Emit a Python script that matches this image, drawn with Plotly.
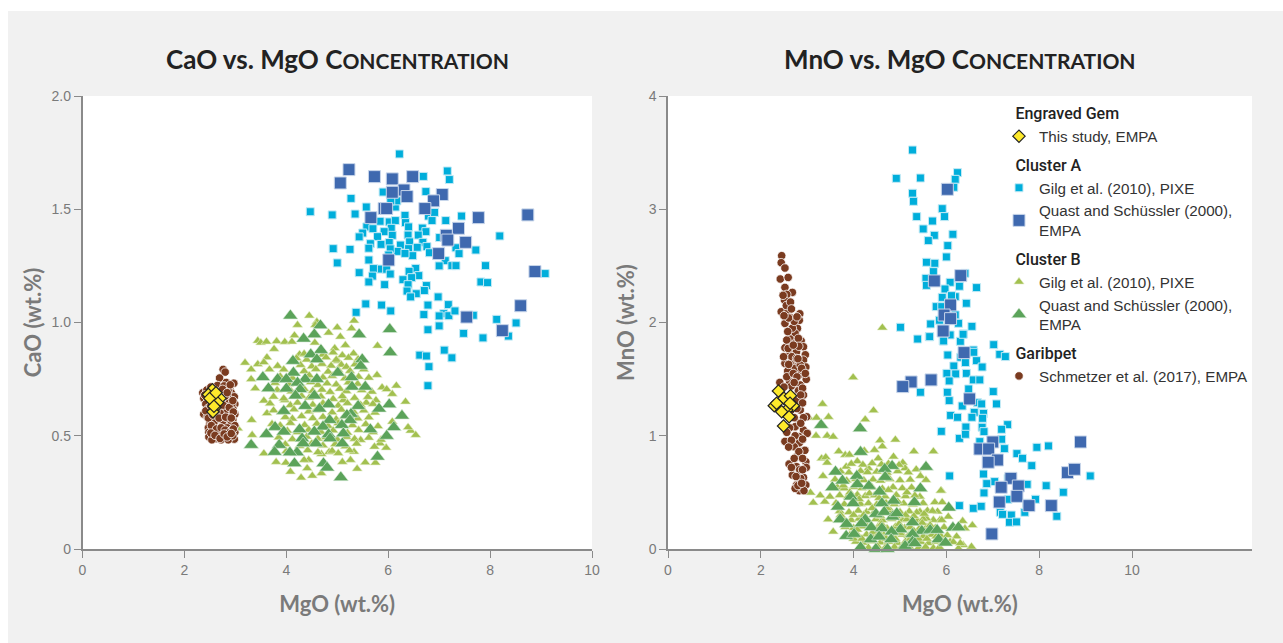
import plotly.graph_objects as go

W, H = 1283, 643

# ---------- CaO vs MgO (mgo, cao) ----------
gem_cao = [(2.55,.703),(2.47,.682),(2.60,.678),(2.70,.665),(2.55,.653),(2.65,.646),(2.60,.625),(2.56,.606),(2.50,.665),(2.62,.69),(2.58,.63)]

a_pixe_cao = [(6.22,1.744),(7.16,1.669),(6.69,1.645),(7.20,1.631),(5.90,1.576),(6.74,1.578),(5.27,1.548),(4.47,1.489),(4.90,1.475),(5.35,1.479),(5.57,1.51),(6.14,1.51),(6.17,1.537),(6.05,1.537),(6.33,1.473),(6.79,1.47),(6.91,1.486),(7.44,1.47),(7.13,1.45),(6.86,1.45),(5.84,1.447),(6.02,1.444),(6.14,1.45),(6.34,1.441),(5.58,1.422),(5.70,1.414),(6.06,1.416),(6.40,1.422),(6.67,1.417),(6.74,1.401),(5.92,1.401),(5.50,1.395),(5.43,1.378),(5.79,1.379),(6.08,1.385),(6.39,1.386),(6.59,1.386),(7.01,1.375),(8.19,1.382),(5.65,1.348),(5.86,1.345),(6.02,1.353),(6.42,1.356),(6.68,1.354),(6.24,1.342),(6.40,1.326),(6.57,1.332),(6.76,1.335),(6.18,1.314),(6.04,1.325),(5.62,1.328),(4.92,1.326),(5.25,1.323),(7.33,1.33),(7.72,1.32),(7.39,1.304),(6.81,1.308),(6.48,1.295),(6.33,1.305),(6.01,1.298),(5.62,1.276),(5.0,1.263),(7.12,1.273),(7.0,1.25),(7.25,1.251),(7.33,1.251),(7.91,1.251),(5.84,1.236),(5.71,1.238),(5.97,1.235),(5.43,1.22),(6.04,1.214),(6.54,1.239),(6.41,1.226),(6.60,1.207),(6.46,1.198),(6.29,1.189),(5.69,1.205),(5.62,1.179),(5.93,1.167),(6.39,1.167),(6.75,1.163),(7.82,1.179),(7.95,1.176),(9.08,1.216),(6.37,1.139),(6.71,1.141),(6.55,1.127),(6.44,1.113),(6.98,1.113),(6.78,1.077),(5.56,1.082),(5.87,1.077),(7.18,1.079),(5.37,1.045),(6.05,1.051),(6.70,1.035),(7.09,1.039),(7.0,1.029),(7.19,1.03),(7.31,1.051),(7.67,1.032),(8.13,1.014),(8.51,.998),(6.78,.968),(7.0,.985),(7.48,.952),(7.86,.932),(8.36,.94),(6.62,.856),(6.75,.852),(7.10,.878),(7.25,.844),(6.80,.805),(6.78,.721)]

a_empa_cao = [(5.23,1.675),(5.06,1.616),(5.73,1.644),(6.08,1.634),(6.48,1.644),(6.31,1.585),(6.08,1.575),(6.37,1.556),(7.06,1.565),(6.89,1.537),(6.72,1.503),(5.92,1.503),(5.97,1.503),(5.66,1.463),(7.77,1.463),(8.74,1.475),(7.38,1.416),(7.14,1.385),(7.17,1.364),(7.52,1.354),(6.99,1.304),(6.01,1.276),(8.88,1.225),(8.60,1.074),(7.54,1.024),(8.24,.964)]

b_pixe_cao = [(4.45,1.03),(4.22,.989),(4.60,1.003),(4.57,.989),(5.0,.978),(5.33,1.008),(5.28,.974),(4.83,.955),(4.16,.943),(5.06,.937),(3.44,.919),(3.50,.911),(3.61,.915),(3.81,.917),(3.97,.914),(4.11,.915),(4.56,.911),(5.16,.90),(5.79,.897),(3.76,.883),(4.26,.859),(4.95,.886),(5.01,.83),(3.62,.846),(3.19,.822),(3.44,.816),(3.56,.824),(3.83,.808),(3.31,.793),(3.67,.793),(3.31,.75),(5.78,.768),(3.39,.709),(6.16,.721),(5.88,.713),(5.97,.705),(6.08,.684),(6.34,.65),(3.56,.655),(3.97,.657),(3.62,.599),(3.32,.569),(3.05,.532),(3.33,.503),(3.56,.422),(3.80,.384),(4.08,.341),(4.29,.315),(4.51,.323),(4.69,.334),(4.41,.356),(5.39,.354),(5.55,.382),(5.26,.393),(5.10,.384),(5.75,.381),(5.96,.447),(5.84,.466),(5.73,.451),(6.44,.522),(6.39,.537),(6.54,.503),(6.08,.562),(5.57,.646),(5.76,.657),(5.12,.657),(5.33,.429),(4.84,.428),(4.69,.419),(4.44,.393),(4.35,.393),(3.99,.381),(5.46,.481),
(4.35,.862),(4.72,.858),(4.92,.867),(5.10,.855),(5.32,.863),(4.20,.842),(4.40,.836),(4.78,.846),(4.98,.835),(5.22,.844),(5.41,.838),(4.28,.812),(4.50,.806),(4.70,.817),(4.88,.809),(5.08,.813),(5.18,.804),(5.35,.815),(3.95,.792),(4.35,.785),(4.58,.794),(4.82,.783),(5.02,.79),(5.25,.786),(5.52,.793),(3.88,.762),(4.12,.755),(4.45,.766),(4.72,.757),(4.90,.764),(5.15,.753),(5.42,.76),(5.62,.756),(3.78,.733),(4.05,.727),(4.48,.736),(4.62,.724),(4.80,.731),(4.98,.726),(5.22,.735),(5.40,.729),(3.82,.702),(4.10,.695),(4.35,.706),(4.52,.698),(4.70,.703),(4.86,.693),(5.05,.707),(5.18,.697),(5.48,.701),(5.68,.694),(3.75,.672),(3.95,.664),(4.30,.676),(4.45,.668),(4.68,.673),(4.92,.662),(5.10,.674),(5.34,.667),(5.60,.671),(3.68,.642),(4.08,.635),(4.22,.646),(4.52,.637),(4.72,.643),(5.02,.633),(5.20,.644),(5.46,.636),(5.70,.64),(3.75,.612),(3.90,.604),(4.15,.616),(4.44,.607),(4.58,.613),(4.90,.603),(5.08,.615),(5.32,.606),(5.52,.611),(5.74,.602),(3.98,.582),(4.12,.575),(4.30,.586),(4.52,.577),(4.72,.583),(4.98,.573),(5.14,.585),(5.40,.576),(5.62,.581),(3.72,.552),(3.88,.545),(4.08,.556),(4.36,.547),(4.60,.553),(4.82,.543),(5.02,.555),(5.30,.546),(5.56,.551),(5.80,.542),(4.02,.522),(4.22,.515),(4.44,.526),(4.68,.517),(4.92,.523),(5.20,.513),(5.42,.525),(5.70,.516),(3.85,.492),(4.12,.485),(4.40,.496),(4.62,.487),(4.78,.493),(5.00,.483),(5.18,.495),(5.34,.486),(5.62,.491),(5.86,.482),(3.98,.462),(4.26,.455),(4.50,.466),(4.72,.457),(4.96,.463),(5.16,.453),(5.38,.465),(4.00,.432),(4.18,.425),(4.42,.436),(4.62,.427),(4.90,.433),(5.02,.423),(5.24,.435)]

b_empa_cao = [(4.08,1.03),(4.67,.987),(4.55,.947),(5.43,.947),(6.03,.97),(4.34,.928),(6.04,.868),(4.68,.878),(4.48,.859),(4.60,.837),(4.13,.83),(5.49,.837),(5.46,.808),(4.14,.778),(3.54,.758),(3.83,.75),(4.0,.75),(4.37,.75),(4.60,.75),(5.01,.778),(5.28,.758),(3.65,.709),(4.0,.708),(4.22,.734),(4.27,.705),(5.29,.716),(5.55,.716),(4.18,.677),(4.55,.677),(6.02,.638),(4.83,.638),(4.37,.631),(4.65,.619),(3.95,.609),(5.41,.631),(5.82,.619),(5.27,.596),(5.19,.591),(6.27,.588),(4.85,.569),(5.25,.569),(5.09,.547),(4.72,.54),(3.78,.538),(4.26,.528),(3.95,.518),(3.61,.507),(4.55,.518),(5.65,.528),(6.11,.537),(4.83,.506),(5.12,.51),(5.97,.499),(4.31,.488),(4.86,.488),(3.86,.459),(3.31,.459),(4.58,.466),(5.10,.466),(4.33,.466),(4.21,.426),(4.07,.426),(3.77,.428),(5.79,.407),(4.16,.378),(4.73,.378),(4.80,.359),(5.07,.316)]

garibpet_cao = [(2.76,.793),(2.80,.781),(2.69,.755),(2.82,.735),(2.97,.732),(2.89,.708),(2.65,.722),(2.78,.72),(2.36,.69),(2.44,.702),(2.52,.715),(2.92,.69),(2.98,.672),(2.38,.665),(2.85,.668),(2.72,.69),(2.46,.66),(2.75,.655),(2.88,.65),(2.99,.64),(2.42,.64),(2.68,.64),(2.82,.625),(2.95,.62),(2.46,.62),(2.74,.615),(2.90,.6),(2.38,.595),(2.50,.6),(2.99,.595),(2.78,.595),(2.65,.595),(2.86,.58),(2.45,.583),(2.56,.575),(2.95,.57),(2.72,.57),(2.84,.56),(2.66,.56),(2.50,.555),(2.60,.545),(2.76,.548),(2.92,.55),(2.99,.545),(2.47,.535),(2.68,.535),(2.84,.535),(2.58,.525),(2.76,.52),(2.93,.525),(2.48,.515),(2.65,.51),(2.85,.51),(2.99,.515),(2.55,.5),(2.74,.505),(2.90,.495),(2.48,.495),(2.62,.487),(2.80,.49),(2.72,.482),(2.98,.485),(2.54,.482),(2.86,.482),(2.68,.5),(2.95,.5),(2.58,.56),(2.80,.61),(2.93,.64),(2.86,.7),(2.70,.6),(2.56,.67),(2.80,.675),
(2.42,.61),(2.52,.632),(2.62,.61),(2.76,.635),(2.88,.625),(2.96,.605),(2.47,.578),(2.56,.592),(2.68,.578),(2.81,.582),(2.92,.578),(2.53,.545),(2.63,.53),(2.72,.535),(2.80,.525),(2.89,.515),(2.96,.53),(2.52,.512),(2.60,.502),(2.70,.488),(2.78,.508),(2.84,.495),(2.92,.51),(2.40,.68),(2.60,.70),(2.75,.705),(2.90,.725),(2.95,.655),(2.84,.69),(2.72,.665)]

# ---------- MnO vs MgO (mgo, mno) ----------
gem_mno = [(2.38,1.395),(2.29,1.265),(2.50,1.33),(2.64,1.353),(2.70,1.265),(2.56,1.227),(2.45,1.212),(2.61,1.168),(2.49,1.086),(2.34,1.286),(2.63,1.286)]

a_pixe_mno = [(5.27,3.523),(4.92,3.273),(5.44,3.276),(6.24,3.323),(6.19,3.264),(6.16,3.194),(5.27,3.141),(5.29,3.07),(5.91,3.005),(5.36,2.935),(5.96,2.935),(5.70,2.896),(5.50,2.826),(5.74,2.77),(5.61,2.723),(6.14,2.779),(6.03,2.679),(6.0,2.579),(5.57,2.532),(5.75,2.523),(5.72,2.449),(6.40,2.434),(5.56,2.39),(5.57,2.328),(6.08,2.355),(6.28,2.32),(6.65,2.308),(5.97,2.296),(5.91,2.222),(6.19,2.228),(6.11,2.237),(6.43,2.17),(5.78,2.14),(5.90,2.14),(6.19,2.067),(5.88,2.02),(5.66,1.987),(5.85,2.02),(6.26,1.993),(6.55,1.966),(5.01,1.958),(6.37,1.899),(5.63,1.875),(5.38,1.854),(6.08,1.89),(5.93,1.837),(6.30,1.834),(7.02,1.804),(6.58,1.757),(5.64,1.875),(6.36,1.896),(5.94,1.837),(7.15,1.719),(7.27,1.699),(6.59,1.737),(6.03,1.713),(6.65,1.663),(6.77,1.607),(6.31,1.693),(6.41,1.646),(6.16,1.616),(6.01,1.551),(6.20,1.546),(6.43,1.551),(6.06,1.484),(6.58,1.493),(6.72,1.493),(5.44,1.384),(6.02,1.384),(6.48,1.413),(7.01,1.39),(6.06,1.31),(6.67,1.292),(6.76,1.281),(7.08,1.281),(6.34,1.263),(6.60,1.207),(6.80,1.198),(6.09,1.18),(6.24,1.163),(6.55,1.163),(6.78,1.154),(6.42,1.077),(6.77,1.075),(7.32,1.098),(7.19,1.057),(5.89,1.039),(6.28,.977),(6.41,1.013),(6.81,1.036),(6.72,.948),(7.19,.969),(7.25,.886),(7.95,.898),(8.20,.91),(7.52,.842),(7.64,.801),(7.84,.736),(6.07,.645),(6.80,.662),(7.04,.595),(6.87,.577),(7.33,.624),(7.74,.571),(8.15,.559),(8.52,.501),(9.10,.645),(6.81,.495),(6.28,.383),(6.58,.359),(6.75,.377),(7.33,.439),(7.92,.439),(7.73,.404),(7.16,.324),(7.21,.306),(7.40,.30),(7.69,.324),(8.38,.289),(7.36,.236),(7.51,.239)]

a_empa_mno = [(6.02,3.176),(6.31,2.414),(5.74,2.367),(6.09,2.155),(5.95,2.066),(6.09,2.034),(5.93,1.925),(6.38,1.734),(5.24,1.475),(5.67,1.493),(5.06,1.434),(6.50,1.325),(7.0,.945),(6.72,.883),(6.91,.883),(7.10,.786),(6.90,.766),(7.39,.624),(7.18,.545),(7.55,.556),(7.52,.465),(7.14,.415),(7.78,.383),(8.26,.383),(8.61,.674),(8.76,.704),(8.89,.945),(6.98,.133)]

b_pixe_mno = [(4.62,1.954),(3.99,1.515),(3.33,1.28),(4.43,1.224),(3.04,1.159),(3.20,1.159),(3.46,1.165),(4.25,1.144),(3.19,1.0),(3.43,1.0),(3.56,.991),(4.57,.959),(4.90,.965),(4.62,.906),(3.68,.862),(3.82,.83),(3.91,.832),(4.23,.868),(4.45,.874),(5.30,.862),(5.72,.862),(3.31,.8),(3.40,.81),(3.43,.762),(4.08,.774),(4.53,.80),(4.86,.815),(5.06,.762),(3.84,.727),(4.32,.712),(5.11,.712),(5.35,.703),(3.34,.644),(5.44,.644),(5.56,.609),(5.89,.515),(3.07,.497),(3.28,.473),(3.13,.409),(3.38,.418),(3.49,.462),(5.75,.412),(5.91,.412),(5.43,.462),(5.59,.338),(3.45,.261),(3.56,.153),(6.04,.285),(6.56,.21),(6.40,.18),(6.35,.247),(6.54,.02),(6.36,.035),(6.26,.005),(6.08,.064),(5.88,.515),(5.81,.33),(5.86,.256),(5.72,.256),(5.57,.27),(5.43,.33),
(3.95,.752),(4.20,.744),(4.40,.757),(4.60,.746),(4.75,.753),(4.98,.742),(3.72,.684),(3.90,.675),(4.15,.688),(4.30,.677),(4.50,.683),(4.72,.673),(4.95,.686),(5.18,.676),(3.60,.614),(3.85,.605),(4.05,.618),(4.22,.607),(4.42,.613),(4.58,.603),(4.78,.616),(5.00,.606),(5.22,.612),(3.65,.544),(3.80,.535),(4.00,.548),(4.18,.537),(4.40,.543),(4.62,.533),(4.85,.546),(5.05,.536),(5.25,.542),(3.70,.474),(3.88,.465),(4.08,.478),(4.25,.467),(4.45,.473),(4.68,.463),(4.92,.476),(5.12,.466),(5.32,.472),(3.62,.404),(3.80,.395),(3.98,.408),(4.15,.397),(4.32,.403),(4.50,.393),(4.70,.406),(4.88,.396),(5.08,.402),(5.28,.392),(5.50,.405),(3.70,.334),(3.90,.325),(4.10,.338),(4.28,.327),(4.46,.333),(4.64,.323),(4.80,.336),(5.00,.326),(5.20,.332),(5.36,.322),(5.70,.335),(3.78,.264),(3.95,.255),(4.12,.268),(4.30,.257),(4.48,.263),(4.62,.253),(4.82,.266),(5.05,.256),(5.15,.262),(5.38,.252),(5.50,.265),(5.90,.255),(3.82,.194),(4.00,.185),(4.18,.198),(4.35,.187),(4.52,.193),(4.72,.183),(4.90,.196),(5.10,.186),(5.22,.192),(5.42,.182),(5.58,.195),(5.76,.185),(5.95,.191),(6.20,.181),(3.92,.124),(4.10,.115),(4.28,.128),(4.45,.117),(4.65,.123),(4.85,.113),(5.05,.126),(5.18,.116),(5.35,.122),(5.50,.112),(5.68,.125),(5.88,.115),(6.02,.121),(6.22,.111),(4.05,.064),(4.22,.055),(4.38,.068),(4.58,.057),(4.75,.063),(4.95,.053),(5.12,.066),(5.28,.056),(5.45,.062),(5.62,.052),(5.78,.065),(5.92,.055),(6.15,.061),(6.30,.051),(4.18,.02),(4.32,.012),(4.52,.022),(4.68,.01),(4.88,.018),(5.02,.008),(5.20,.02),(5.40,.01),(5.55,.018),(5.72,.008),(5.85,.016),
(3.78,.56),(3.92,.50),(4.12,.44),(4.34,.49),(4.55,.45),(4.75,.52),(4.95,.42),(5.15,.50),(3.72,.30),(4.00,.30),(4.22,.30),(4.40,.36),(4.58,.29),(4.72,.36),(4.92,.29),(5.12,.30),(5.30,.29),(5.52,.31),(3.88,.22),(4.08,.17),(4.25,.22),(4.42,.15),(4.60,.22),(4.80,.15),(4.98,.22),(5.30,.16),(5.48,.23),(5.65,.21),(4.00,.09),(4.18,.09),(4.36,.10),(4.55,.14),(4.70,.09),(4.90,.09),(5.00,.14),(5.22,.09),(5.40,.09),(5.58,.09),(5.78,.11)]

b_empa_mno = [(3.30,1.094),(4.14,1.065),(4.15,.856),(3.61,.682),(3.76,.603),(4.07,.644),(4.83,.732),(5.56,.724),(4.67,.706),(4.68,.635),(3.54,.544),(4.08,.571),(4.33,.556),(4.56,.506),(5.44,.535),(3.94,.462),(4.86,.426),(5.31,.412),(3.99,.403),(4.61,.403),(3.66,.373),(6.05,.364),(4.48,.309),(4.66,.326),(4.84,.285),(3.71,.261),(4.25,.261),(4.17,.226),(3.85,.22),(5.27,.235),(4.93,.315),(4.38,.191),(4.61,.182),(5.01,.173),(5.47,.159),(5.65,.167),(5.80,.167),(6.14,.188),(5.27,.132),(3.84,.114),(4.01,.132),(4.37,.085),(4.55,.109),(4.82,.153),(4.81,.085),(5.27,.064),(5.83,.085),(5.98,.055),(4.15,.014),(4.48,.0),(4.73,.0),(5.11,.026),(5.32,.05),(6.26,.19)]

garibpet_mno = [(2.45,2.59),(2.44,2.528),(2.52,2.481),(2.42,2.384),(2.59,2.398),(2.52,2.31),(2.68,2.266),(2.56,2.248),(2.51,2.198),(2.44,2.095),(2.59,2.107),(2.84,2.077),(2.83,2.019),(2.65,2.039),(2.52,1.992),(2.62,1.933),(2.79,1.948),(2.74,1.904),(2.63,1.854),(2.87,1.839),(2.74,1.816),(2.52,1.777),(2.92,1.786),(2.67,1.757),(2.96,1.715),(2.77,1.742),(2.62,1.712),(2.52,1.639),(2.74,1.645),(2.92,1.668),(2.63,1.639),(2.97,1.607),(2.74,1.595),(2.58,1.571),(2.86,1.542),(2.98,1.498),(2.74,1.498),(2.41,1.471),(2.62,1.477),(2.85,1.448),(2.81,1.398),(2.92,1.359),(2.85,1.227),(2.99,1.168),(2.81,1.115),(2.92,1.05),(3.0,1.021),(2.83,.991),(2.52,.95),(2.83,.938),(2.72,.903),(2.95,.871),(2.77,.815),(2.61,.75),(2.97,.771),(2.98,.72),(2.77,.727),(2.92,.632),(2.68,.653),(2.86,.623),(2.77,.565),(2.97,.565),(2.83,.515),(2.93,.515),(2.74,.535),(2.70,1.345),(2.49,1.315),(2.63,1.2),(2.74,1.08),(2.56,1.845),(2.81,1.86),(2.67,1.698),(2.85,1.624),(2.56,1.521),(2.70,1.55),(2.88,1.595),(2.49,1.698),(2.59,1.771),(2.77,1.683),(2.90,1.42),(2.66,1.44),(2.78,1.52),(2.60,1.63),(2.82,1.79),(2.68,1.95),(2.72,2.01),(2.60,2.04),(2.55,2.15),(2.64,2.18),
(2.78,1.31),(2.86,1.36),(2.90,1.29),(2.78,1.24),(2.92,1.16),(2.72,1.16),(2.86,1.11),(2.74,1.0),(2.90,.97),(2.66,.96),(2.60,.90),(2.82,.86),(2.90,.80),(2.72,.80),(2.66,.72),(2.84,.70),(2.76,.64),(2.90,.70),(2.80,.56),(2.88,.58),(2.62,1.07),(2.56,1.03),(2.72,1.47),(2.50,1.43),(2.96,1.55),(2.80,1.68),(2.70,1.80),(2.58,1.92),(2.78,2.05),(2.50,2.06),(2.66,2.12),(2.48,2.24)]

x_ticks = [0, 2, 4, 6, 8, 10]
cao_ticks = [0, 0.5, 1.0, 1.5, 2.0]
cao_tick_labels = ["0", "0.5", "1.0", "1.5", "2.0"]
mno_ticks = [0, 1, 2, 3, 4]
TEXT_GRAY, AXIS_GRAY = "#7a7a7a", "#8a8a8a"
SANS = "Liberation Sans"
TITLE_FONT = "Lato"
GROUP_INDENT = "\u2002\u2009"

styles = {
    "a_pixe": dict(name="Gilg et al. (2010), PIXE", group="Cluster A", rank=3,
                   marker=dict(symbol="square", size=8, color="#00aedb", line=dict(color="#c4eaf5", width=1))),
    "a_empa": dict(name="Quast and Schüssler (2000),<br>EMPA", group="Cluster A", rank=4,
                   marker=dict(symbol="square", size=12, color="#3f69af", line=dict(color="#c8d6ea", width=1))),
    "b_pixe": dict(name="Gilg et al. (2010), PIXE", group="Cluster B", rank=5,
                   marker=dict(symbol="triangle-up", size=9, color="#a2c04f", line=dict(color="#e8f0d0", width=0.6))),
    "b_empa": dict(name="Quast and Schüssler (2000),<br>EMPA", group="Cluster B", rank=6,
                   marker=dict(symbol="triangle-up", size=13, color="#5ba35a", line=dict(color="#dcecdc", width=0.6))),
    "gar": dict(name="Schmetzer et al. (2017), EMPA", group="Garibpet", rank=7,
                marker=dict(symbol="circle", size=8.5, color="#7a3b20", line=dict(color="#ffffff", width=0.8))),
    "gem": dict(name="This study, EMPA", group="Engraved Gem", rank=1,
                marker=dict(symbol="diamond", size=9.5, color="#fde92b", line=dict(color="#222222", width=1.2))),
}

series_cao = {"a_pixe": a_pixe_cao, "a_empa": a_empa_cao, "b_pixe": b_pixe_cao, "b_empa": b_empa_cao, "gar": garibpet_cao, "gem": gem_cao}
series_mno = {"a_pixe": a_pixe_mno, "a_empa": a_empa_mno, "b_pixe": b_pixe_mno, "b_empa": b_empa_mno, "gar": garibpet_mno, "gem": gem_mno}

fig = go.Figure()
for key, pts in series_cao.items():
    s = styles[key]
    fig.add_trace(go.Scatter(x=[p[0] for p in pts], y=[p[1] for p in pts], mode="markers",
                             marker=s["marker"], name=s["name"], legendgroup=s["group"],
                             showlegend=False, xaxis="x", yaxis="y", cliponaxis=False))
for key, pts in series_mno.items():
    s = styles[key]
    fig.add_trace(go.Scatter(x=[p[0] for p in pts], y=[p[1] for p in pts], mode="markers",
                             marker=s["marker"], name=s["name"], legendgroup=s["group"],
                             legendgrouptitle=dict(text=GROUP_INDENT + s["group"]), legendrank=s["rank"],
                             showlegend=True, xaxis="x2", yaxis="y2", cliponaxis=False))

axis_common = dict(showgrid=False, zeroline=False, showline=True, linecolor=AXIS_GRAY, linewidth=1.5,
                   ticks="outside", ticklen=7, tickwidth=1, tickcolor=AXIS_GRAY,
                   tickfont=dict(family=SANS, size=14, color=TEXT_GRAY))
title_style = dict(family=TITLE_FONT, size=22, color="#7a7a7a", weight="bold")


def small_caps(head):
    return (f"<b>{head} C<span style='font-size:21px'>ONCENTRATION</span></b>")


fig.update_layout(
    width=W, height=H, autosize=False, margin=dict(l=0, r=0, t=0, b=0, autoexpand=False),
    paper_bgcolor="#f1f1f1", plot_bgcolor="#ffffff",
    xaxis=dict(domain=[82.5/W, 592/W], range=[0, 10], tickvals=x_ticks, anchor="y",
               title=dict(text="MgO (wt.%)", font=title_style, standoff=20), **axis_common),
    yaxis=dict(domain=[(H-549)/H, (H-96)/H], range=[0, 2.0], tickvals=cao_ticks, ticktext=cao_tick_labels, anchor="x",
               title=dict(text="CaO (wt.%)", font=title_style, standoff=4), **axis_common),
    xaxis2=dict(domain=[668/W, 1252/W], range=[0, (1252-668)/46.4], tickvals=x_ticks, anchor="y2",
                title=dict(text="MgO (wt.%)", font=title_style, standoff=20), **axis_common),
    yaxis2=dict(domain=[(H-549)/H, (H-96)/H], range=[0, 4], tickvals=mno_ticks, anchor="x2",
                title=dict(text="MnO (wt.%)", font=title_style, standoff=8), **axis_common),
    legend=dict(x=999/W, y=(H-96)/H, xanchor="left", yanchor="top", bgcolor="rgba(0,0,0,0)",
                traceorder="grouped", tracegroupgap=5, itemsizing="trace", itemclick=False,
                font=dict(family=SANS, size=15.2, color="#333333"),
                grouptitlefont=dict(family="Roboto", size=16, color="#222222", weight=500)),
    shapes=[dict(type="rect", xref="paper", yref="paper", x0=0, x1=1, y0=(H-11)/H, y1=1,
                 fillcolor="#ffffff", line_width=0, layer="below"),
            dict(type="rect", xref="paper", yref="paper", x0=0, x1=8/W, y0=0, y1=1,
                 fillcolor="#ffffff", line_width=0, layer="below")],
    annotations=[
        dict(text=small_caps("CaO vs. MgO"), xref="paper", yref="paper", x=337/W, y=(H-59)/H, showarrow=False,
             xanchor="center", yanchor="middle", font=dict(family=TITLE_FONT, size=26, color="#222222")),
        dict(text=small_caps("MnO vs. MgO"), xref="paper", yref="paper", x=960/W, y=(H-59)/H, showarrow=False,
             xanchor="center", yanchor="middle", font=dict(family=TITLE_FONT, size=26, color="#222222")),
    ],
)

fig.write_html("out.html", config=dict(displayModeBar=False),
               post_script="document.body.style.margin='0';document.documentElement.style.overflow='hidden';")
